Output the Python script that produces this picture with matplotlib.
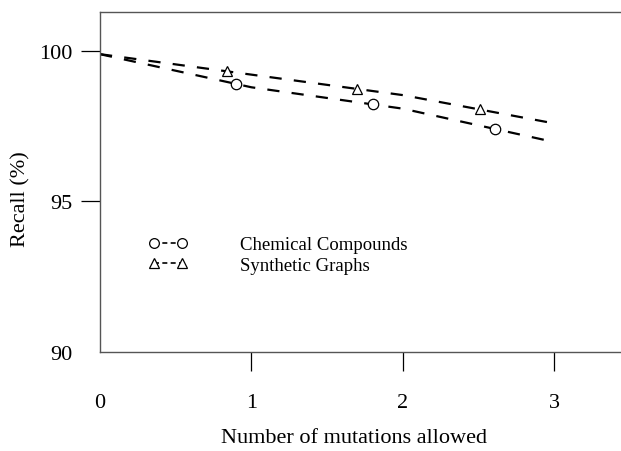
import numpy as np
import matplotlib
matplotlib.use("Agg")
import matplotlib.pyplot as plt

plt.rcParams['font.family'] = ['Liberation Serif', 'DejaVu Serif']

# dashed trend lines, sampled at each mutation count
x_line = [0, 1, 2, 3]
chem_line = [99.88, 98.78, 98.07, 96.96]
synth_line = [99.88, 99.20, 98.52, 97.58]

# measured points
chem_x = [0.90, 1.80, 2.61]
chem_y = [98.88, 98.22, 97.40]
synth_x = [0.84, 1.70, 2.51]
synth_y = [99.33, 98.72, 98.05]

x_ticks = [0, 1, 2, 3]
y_ticks = [90, 95, 100]

fig = plt.figure(figsize=(6.21, 4.52), dpi=100)
ax = fig.add_axes([0.161, 0.2197, 0.839, 0.7522])

dash = dict(color='black', lw=1.6, dashes=(5.5, 5.5))
ax.plot(x_line, chem_line, **dash)
ax.plot(x_line, synth_line, **dash)

mk = dict(ls='none', mfc='white', mec='black', mew=0.9, ms=7.5)
ax.plot(chem_x, chem_y, marker='o', **mk)
ax.plot(synth_x, synth_y, marker='^', **mk)

# legend entries: dashed line with marker
h1, = ax.plot([], [], marker='o', color='black', lw=1.2, dashes=(3, 2),
              mfc='white', mec='black', mew=0.9, ms=7)
h2, = ax.plot([], [], marker='^', color='black', lw=1.2, dashes=(3, 2),
              mfc='white', mec='black', mew=0.9, ms=7)
ax.legend([h1, h2], ['Chemical Compounds', 'Synthetic Graphs'],
          loc='upper left', bbox_to_anchor=(0.06, 0.39), frameon=False,
          numpoints=2, handlelength=2.1, handletextpad=2.8,
          labelspacing=0.2, fontsize=13.5)

ax.set_xlim(0, 3.44)
ax.set_ylim(90, 101.29)
ax.set_xticks(x_ticks)
ax.set_yticks(y_ticks)
ax.set_xticklabels([str(t) for t in x_ticks])
ax.set_yticklabels([str(t) for t in y_ticks])

ax.tick_params(axis='both', direction='out', length=13.5, width=0.9,
               labelsize=16, color='black')
ax.tick_params(axis='x', pad=16)
ax.tick_params(axis='y', pad=6)
ax.xaxis.get_major_ticks()[0].tick1line.set_visible(False)
ax.yaxis.get_major_ticks()[0].tick1line.set_visible(False)

for side in ['left', 'bottom', 'top']:
    ax.spines[side].set_color('#555555')
    ax.spines[side].set_linewidth(1.0)
ax.spines['right'].set_visible(False)

fig.text(0.034, 0.56, 'Recall (%)', rotation=90, ha='center', va='center',
         fontsize=16)
fig.text(0.57, 0.03, 'Number of mutations allowed', ha='center', va='center',
         fontsize=16)

fig.savefig('out.png', dpi=100)
